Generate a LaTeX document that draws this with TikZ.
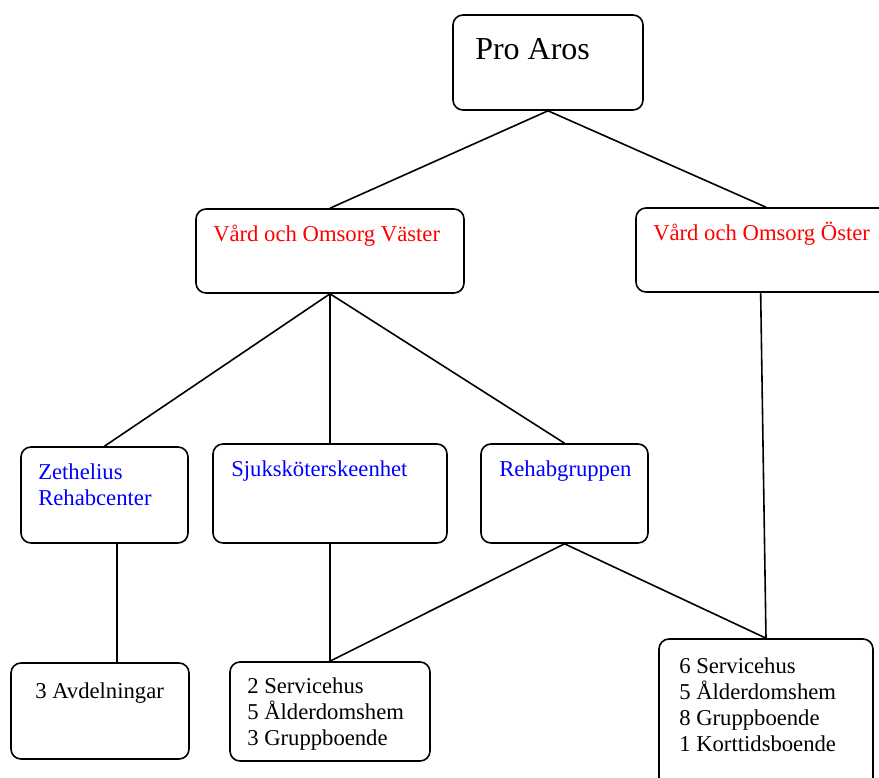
\documentclass[tikz,border=0pt]{standalone}
\usepackage{fontspec}
\setmainfont{Liberation Serif}
\usetikzlibrary{fit}
\begin{document}
\begin{tikzpicture}[x=0.75pt,y=-0.75pt,
  box/.style={draw=black,line width=1.2pt,rounded corners=7.5pt,inner sep=0pt,fill=none},
  conn/.style={draw=black,line width=1.2pt},
  txt/.style={anchor=base west,inner sep=0pt,font=\fontsize{17}{19.5}\selectfont},
  red txt/.style={txt,text=red},
  blue txt/.style={txt,text=blue}]
\useasboundingbox (0,0) rectangle (879,778);
\clip (0,0) rectangle (879,778);
% boxes
\node[box,fit={(453,15) (643,110)}] (pro) {};
\node[box,fit={(196,209) (464,293)}] (vaster) {};
\node[box,fit={(636,208) (896,292)}] (oster) {};
\node[box,fit={(21,447) (188,543)}] (zeth) {};
\node[box,fit={(213,444) (447,543)}] (sjuk) {};
\node[box,fit={(481,444) (648,543)}] (rehab) {};
\node[box,fit={(11,663) (189,759)}] (avd) {};
\node[box,fit={(230,662) (430,761)}] (mid) {};
\node[box,fit={(659,639) (873,800)}] (br) {};
% texts
\node[txt,font=\fontsize{24}{28}\selectfont] (tpro) at (475,59) {Pro Aros};
\node[red txt] (tvaster) at (213,241) {Vård och Omsorg Väster};
\node[red txt] (toster) at (653,240) {Vård och Omsorg Öster};
\node[blue txt] (tzeth1) at (38,479) {Zethelius};
\node[blue txt] (tzeth2) at (38,505) {Rehabcenter};
\node[blue txt] (tsjuk) at (231,476) {Sjuksköterskeenhet};
\node[blue txt] (trehab) at (499,476) {Rehabgruppen};
\node[txt] (tavd) at (35,698) {3 Avdelningar};
\node[txt] (tmid1) at (247,693) {2 Servicehus};
\node[txt] (tmid2) at (247,719) {5 Ålderdomshem};
\node[txt] (tmid3) at (247,745) {3 Gruppboende};
\node[txt] (tbr1) at (679,673) {6 Servicehus};
\node[txt] (tbr2) at (679,699) {5 Ålderdomshem};
\node[txt] (tbr3) at (679,725) {8 Gruppboende};
\node[txt] (tbr4) at (679,751) {1 Korttidsboende};
% connectors
\draw[conn] (pro.south) -- (vaster.north);
\draw[conn] (pro.south) -- (oster.north);
\draw[conn] (vaster.south) -- (zeth.north);
\draw[conn] (vaster.south) -- (sjuk.north);
\draw[conn] (vaster.south) -- (rehab.north);
\draw[conn] ([xshift=-4]oster.south) -- (br.north);
\path (zeth.south) ++(12.5,0) coordinate (zb);
\draw[conn] (zb) -- (zb |- avd.north);
\draw[conn] (sjuk.south) -- (mid.north);
\draw[conn] (rehab.south) -- (mid.north);
\draw[conn] (rehab.south) -- (br.north);
\end{tikzpicture}
\end{document}
